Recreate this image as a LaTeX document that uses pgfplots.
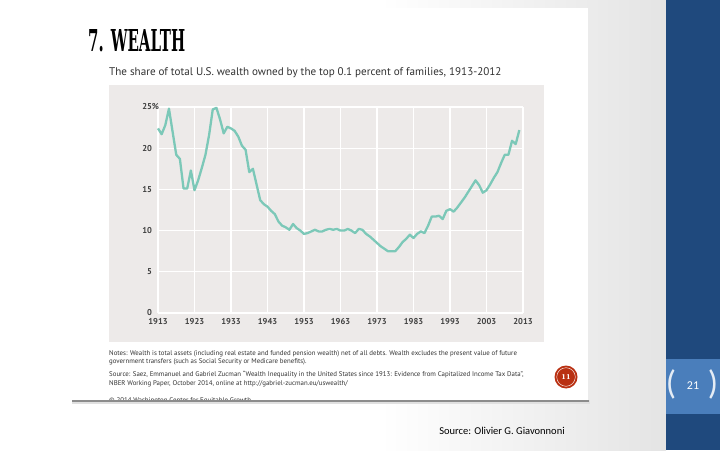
\documentclass[border=0pt]{standalone}
\usepackage{pgfplots}
\pgfplotsset{compat=1.18}
\usepackage{pgfplotstable}
\usepackage{fontspec}
\usepackage{graphicx}
\setmainfont{PT Sans}
\newfontfamily\carlito{Carlito}
\newfontfamily\slabfont{DejaVu Serif}
\definecolor{panel}{RGB}{237,234,233}
\definecolor{linecol}{RGB}{124,200,184}
\definecolor{band}{RGB}{31,73,125}
\definecolor{numbox}{RGB}{74,126,187}
\definecolor{badge}{RGB}{185,48,18}
\definecolor{txt}{RGB}{50,50,50}
\pgfplotstableread{
year share
1913 22.4
1914 21.7
1915 22.8
1916 24.8
1917 22.0
1918 19.2
1919 18.7
1920 15.1
1921 15.1
1922 17.3
1923 14.9
1924 16.1
1925 17.6
1926 19.2
1927 21.6
1928 24.7
1929 24.9
1930 23.5
1931 21.8
1932 22.6
1933 22.4
1934 22.1
1935 21.4
1936 20.3
1937 19.8
1938 17.1
1939 17.5
1940 15.6
1941 13.7
1942 13.2
1943 12.9
1944 12.4
1945 12.0
1946 11.1
1947 10.6
1948 10.4
1949 10.1
1950 10.8
1951 10.3
1952 10.0
1953 9.6
1954 9.7
1955 9.9
1956 10.1
1957 9.9
1958 9.9
1959 10.1
1960 10.2
1961 10.1
1962 10.2
1963 10.0
1964 10.0
1965 10.2
1966 10.0
1967 9.7
1968 10.2
1969 10.1
1970 9.6
1971 9.3
1972 8.9
1973 8.5
1974 8.1
1975 7.8
1976 7.5
1977 7.5
1978 7.5
1979 8.0
1980 8.6
1981 9.0
1982 9.5
1983 9.1
1984 9.6
1985 9.9
1986 9.7
1987 10.6
1988 11.7
1989 11.7
1990 11.8
1991 11.4
1992 12.4
1993 12.6
1994 12.3
1995 12.8
1996 13.4
1997 14.0
1998 14.7
1999 15.4
2000 16.1
2001 15.5
2002 14.6
2003 14.9
2004 15.6
2005 16.4
2006 17.1
2007 18.2
2008 19.2
2009 19.2
2010 20.9
2011 20.5
2012 22.2
}\wealthdata
\begin{document}
\begin{tikzpicture}[x=1pt,y=1pt]
\useasboundingbox (0,0) rectangle (720,450);
\fill[white] (0,0) rectangle (720,450);
\shade[left color=white,right color={rgb,255:red,228;green,228;blue,228}] (380,0) rectangle (666,450);
\fill[band] (666,0) rectangle (720,450);
\fill[numbox] (666,36) rectangle (720,91);
\node[white, font=\carlito\fontsize{12}{14}\selectfont] at (693,64) {21};
\node[white!85!numbox, font=\carlito\fontsize{34}{34}\selectfont] at (671,66) {(};
\node[white!85!numbox, font=\carlito\fontsize{34}{34}\selectfont] at (713,66) {)};
% image with shadow
\fill[black!12] (72,46) rectangle (590,50);
\fill[black!45] (72,48.5) rectangle (588.5,50.5);
\fill[white] (72,50) rectangle (588,442);
\draw[black!8] (588,50) -- (588,442);
% title
\node[anchor=south west, inner sep=0pt] at (88,398) {\resizebox{97pt}{22pt}{\slabfont\bfseries 7. WEALTH}};
\node[anchor=base west, inner sep=0pt, text=txt, font=\fontsize{11.1}{13}\selectfont] at (109,374) {The share of total U.S. wealth owned by the top 0.1 percent of families, 1913-2012};
% panel
\fill[panel] (109,108) rectangle (544,365);
\begin{axis}[
  at={(158pt,137pt)}, anchor=south west,
  scale only axis, width=365pt, height=206pt,
  xmin=1913, xmax=2013, ymin=0, ymax=25,
  axis line style={draw=none},
  major tick length=0pt,
  grid=major,
  grid style={white, line width=1.3pt},
  xtick={1913,1923,1933,1943,1953,1963,1973,1983,1993,2003,2013},
  xticklabels={1913,1923,1933,1943,1953,1963,1973,1983,1993,2003,2013},
  ytick={0,5,10,15,20,25},
  yticklabels={0,5,10,15,20,25\rlap{\%}},
  xticklabel style={font=\fontsize{8.5}{9}\selectfont\bfseries, text=black!75, yshift=-2pt},
  yticklabel style={font=\fontsize{8.5}{9}\selectfont\bfseries, text=black!75, xshift=-2.5pt},
  clip=false,
]
\addplot[linecol, line width=2.3pt, line join=round] table[x=year, y=share] {\wealthdata};
\end{axis}
% notes
\begin{scope}[every node/.style={anchor=base west, inner sep=0pt, text=txt, font=\fontsize{6.85}{7.5}\selectfont}]
\node at (109,95) {Notes: Wealth is total assets (including real estate and funded pension wealth) net of all debts. Wealth excludes the present value of future};
\node at (109,86) {government transfers (such as Social Security or Medicare benefits).};
\node at (109,74) {Source: Saez, Emmanuel and Gabriel Zucman ``Wealth Inequality in the United States since 1913: Evidence from Capitalized Income Tax Data'',};
\node at (109,65) {NBER Working Paper, October 2014, online at http://gabriel-zucman.eu/uswealth/};
\begin{scope}
\clip (72,50.5) rectangle (588,442);
\node at (109,48) {\textcopyright{} 2014 Washington Center for Equitable Growth};
\end{scope}
\end{scope}
% badge
\fill[badge] (566,73) circle (11.5);
\draw[white, line width=0.4pt] (566,73) circle (9.3);
\node[white, font=\slabfont\bfseries\fontsize{6.5}{7}\selectfont] at (566,73) {11};
% footer
\node[font=\carlito\fontsize{10.5}{12}\selectfont, text=black] at (502,19) {Source: Olivier G. Giavonnoni};
\end{tikzpicture}
\end{document}
